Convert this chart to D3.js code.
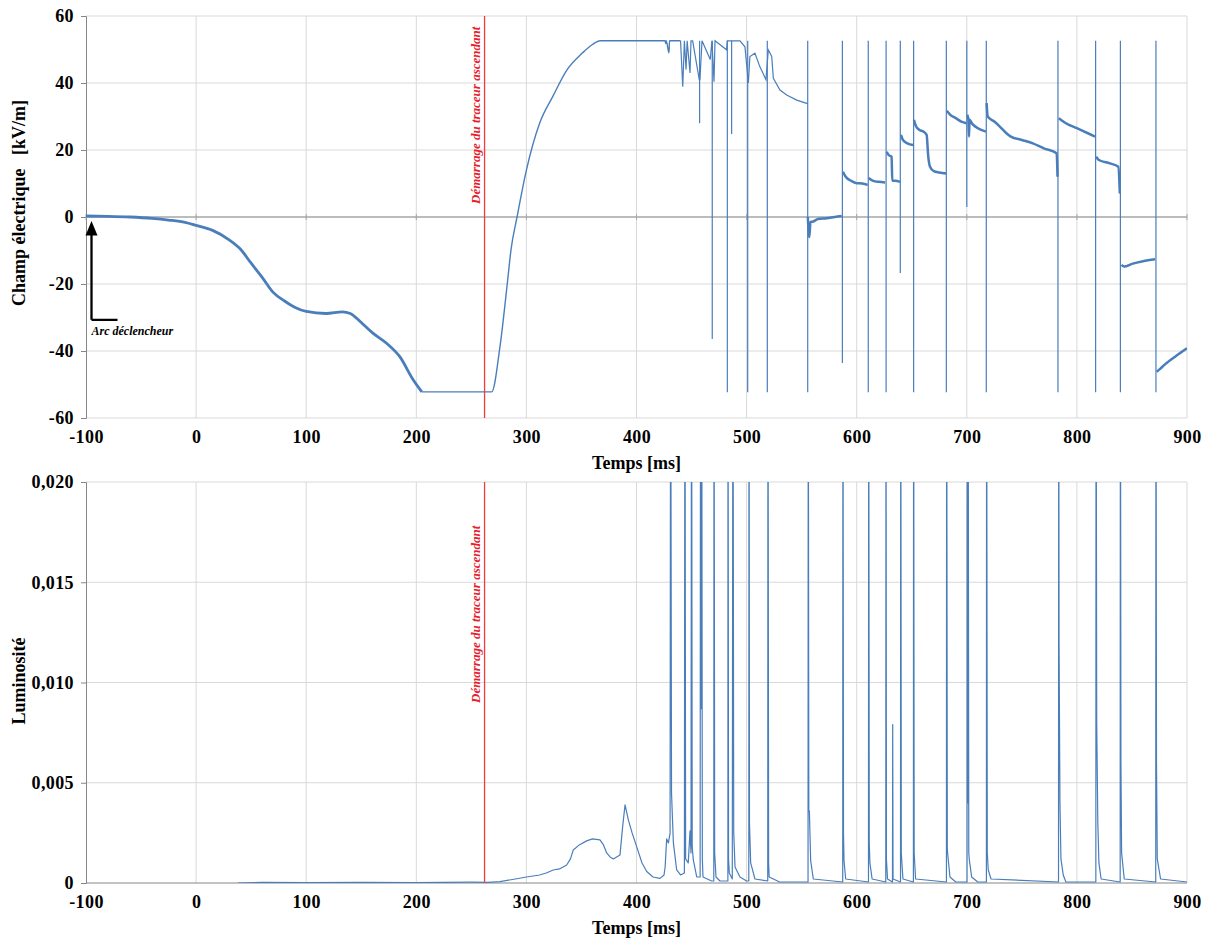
<!DOCTYPE html>
<html lang="fr">
<head>
<meta charset="UTF-8">
<title>Champ électrique et luminosité</title>
<script src="https://d3js.org/d3.v7.min.js"></script>
<style>
  body { margin: 0; background: #fff; }
  svg text { font-family: "Liberation Serif", "Times New Roman", serif; fill: #000; }
  .tick text { font-size: 18px; font-weight: bold; letter-spacing: 0.4px; }
  .grid line { stroke: #d9d9d9; stroke-width: 1; }
  .axis-title { font-size: 18px; font-weight: bold; }
  .note-red { font-size: 13px; font-style: italic; font-weight: bold; fill: #e8202a !important; }
  .note-arc { font-size: 12px; font-style: italic; font-weight: bold; }
</style>
</head>
<body>
<svg id="chart" width="1210" height="941"></svg>
<script>
// ---- data ----
const timeTicks = [-100, 0, 100, 200, 300, 400, 500, 600, 700, 800, 900];
const fieldTicks = [-60, -40, -20, 0, 20, 40, 60];
const lumTicks = [0, 0.005, 0.010, 0.015, 0.020];
const tracerStart = 262; // ms, "Démarrage du traceur ascendant"

// slow field change before the tracer, [ms, kV/m]
const fieldPre = [
  [-100, 0.3], [-80, 0.2], [-60, 0], [-40, -0.4], [-25, -0.9], [-10, -1.6], [0, -2.5],
  [15, -4], [30, -6.8], [40, -9.5], [50, -13.8], [60, -18], [70, -22.5], [80, -25],
  [90, -27], [100, -28.2], [118, -28.8], [133, -28.3], [140, -28.8], [150, -31.5],
  [160, -34.5], [173, -37.7], [185, -41.7], [197, -48.5], [205, -52.2]
];
// saturated floor, then rise to the top saturation
const fieldRise = [
  [205, -52.2], [268.5, -52.2], [276, -38.7], [283, -18.8], [286, -9.8], [291.5, 0],
  [300, 14], [312, 28], [324, 36], [337, 44], [351, 49], [360, 51.5], [367, 52.6],
  [426, 52.6], [426.5, 51.8], [427, 52.6], [429.5, 49], [430, 52.6], [440, 52.6]
];
// saturated part with dips
const fieldSat = [
  [440, 52.6], [442, 38.9], [443.5, 52.6], [445, 44], [446, 52.6], [448.6, 43],
  [449.5, 52.6], [451, 52.6], [457, 41], [457.6, 41], [459.5, 52.6], [467, 47],
  [468.5, 52.6], [470.4, 40.4], [471.3, 52.6], [481.8, 49.9], [482.5, 52.6],
  [494, 52.6], [498.5, 50.8], [501.6, 40], [503, 47.9], [507.6, 48.9], [512, 44.9],
  [517.6, 41], [519.7, 49.9], [522.8, 47.9], [524.3, 41.4], [530.3, 37.9],
  [536.4, 36.4], [545.5, 34.9], [554.6, 33.9], [555.5, 33.8]
];
// field steps between return strokes
const fieldSteps = [
  [[555.6, 0], [557, -6], [558, -1.5], [560, -1.4], [565, -0.6], [572.7, -0.4], [580, 0], [586.4, 0.3]],
  [[587.5, 13.5], [590, 12], [595, 10.8], [600, 10.1], [605, 10], [610, 9.6]],
  [[610.8, 11.6], [615, 10.8], [620, 10.5], [625.8, 10.3]],
  [[627.3, 19.5], [629, 18.5], [631.7, 18], [632.3, 10.8], [635, 10.8], [639.4, 10.5]],
  [[640.2, 24.5], [642, 23], [646, 22], [651.4, 21.5]],
  [[652, 29], [654, 27], [657, 26], [660.5, 25.5], [663.5, 24.5], [665, 18], [666.6, 15],
   [670, 13.7], [675, 13.3], [681.2, 13]],
  [[681.8, 31.7], [685, 30.5], [690, 29.5], [695, 28.5], [699.8, 28]],
  [[700.4, 30.5], [701.5, 29], [702, 24], [702.5, 29], [705, 27.8], [710, 26.5], [717.4, 25.5]],
  [[718, 34], [719, 30], [725, 28.5], [730, 27], [736, 25], [740, 24], [750, 23], [760, 22],
   [770, 20.5], [781.6, 19], [782.4, 12]],
  [[783.5, 29.5], [790, 28], [800, 26.5], [810, 25], [816.5, 24]],
  [[817.5, 18], [820, 17], [830, 16], [837.6, 15], [839, 7]],
  [[840.5, -14.3], [843, -14.8], [850, -14], [860, -13.2], [871, -12.6]],
  [[872.5, -46.2], [875, -45.5], [880, -44], [890, -41.5], [900, -39.2]]
];
// impulsive spikes: [ms, low, high]
const fieldSpikes = [
  [457.3, 28, 52.6], [468.8, -36.4, 52.6], [482.5, -52.3, 52.6], [486.4, 24.8, 52.6],
  [501, -52.3, 52.6], [518.8, -52.3, 52.6], [555.5, -52.3, 52.6], [587, -43.6, 52.6],
  [610.5, -52.3, 52.6], [626.7, -52.3, 52.6], [639.6, -16.7, 52.6], [651.7, -52.3, 52.6],
  [681.4, -52.3, 52.6], [700, 3, 52.6], [717.7, -52.3, 52.6], [782.8, -52.3, 52.6],
  [817, -52.3, 52.6], [839.5, -52.3, 52.6], [871.8, -52.3, 52.6]
];

// luminosity, [ms, value]; peaks go off scale
const luminosity = [
  [38, 0], [60, 0.00003], [100, 0.00002], [150, 0.00003], [200, 0.00002], [250, 0.00004],
  [265, 0.00003], [276, 0.00007], [290, 0.0002], [300, 0.0003], [312, 0.0004], [318, 0.0005],
  [324.4, 0.00065], [330, 0.0007], [336.6, 0.0009], [340, 0.0012], [342.6, 0.00165],
  [348, 0.0019], [354.7, 0.0021], [360, 0.0022], [366.8, 0.00215], [370, 0.0019],
  [372.9, 0.0015], [376, 0.0013], [379, 0.0012], [385, 0.0014], [387.4, 0.0028],
  [389.6, 0.0039], [392.6, 0.00315], [396, 0.0025], [400.2, 0.0018], [405, 0.001],
  [409.3, 0.00057], [415, 0.0003], [421.4, 0.00023], [425, 0.0004], [426, 0.0008],
  [427.4, 0.0022], [429, 0.002], [430.5, 0.0025], [431, 0.03], [431.8, 0.0045],
  [433.5, 0.002], [436.5, 0.00065], [440, 0.0004], [443.5, 0.0005], [444, 0.03],
  [444.6, 0.0012], [447, 0.001], [448.6, 0.0026], [449.5, 0.0015], [450, 0.03],
  [450.6, 0.0018], [451.6, 0.00115], [454.7, 0.0003], [457.8, 0.0003], [458.2, 0.03],
  [458.8, 0.0087], [459.2, 0.03], [459.8, 0.0012], [460.4, 0.0003], [468.3, 0.0001],
  [470.2, 0.0001], [470.4, 0.03], [471, 0.0015], [472.2, 0.0003], [475.8, 0.0001],
  [483, 0.0001], [483.1, 0.03], [483.6, 0.0012], [484.3, 0.0005], [487, 0.0002],
  [487.6, 0.03], [488.3, 0.0025], [489.5, 0.0008], [494, 0.0003], [500, 0.0001],
  [502, 0.0001], [502.2, 0.03], [502.6, 0.003], [503.7, 0.001], [507.6, 0.0002],
  [519.2, 0.0001], [519.4, 0.03], [520, 0.001], [520.5, 0.0003], [530, 0.00005],
  [555.8, 0.00005], [556, 0.03], [556.5, 0.0036], [557, 0.0036], [558.2, 0.0011],
  [560.6, 0.0002], [587.3, 0.00005], [587.5, 0.03], [588, 0.0025], [588.5, 0.0011],
  [590, 0.0002], [610.7, 0.00005], [610.9, 0.03], [611.4, 0.002], [612, 0.001],
  [614, 0.0002], [626.4, 0.00005], [626.6, 0.03], [627, 0.0012], [628, 0.0002],
  [632.5, 0.00005], [632.7, 0.0079], [633, 0.0002], [639.8, 0.00005], [640, 0.03],
  [640.5, 0.0015], [642, 0.0002], [651.5, 0.00005], [651.7, 0.03], [652.2, 0.0015],
  [653.5, 0.0002], [681.5, 0.00005], [681.7, 0.03], [682.3, 0.00165], [684.7, 0.0003],
  [690, 0.00005], [700.2, 0.00005], [700.4, 0.03], [700.9, 0.004], [701.2, 0.03],
  [701.8, 0.0015], [702.3, 0.00115], [704.4, 0.0003], [710, 0.00005], [717.8, 0.00005],
  [718, 0.03], [718.6, 0.0015], [719.5, 0.00065], [722, 0.0002], [783.3, 0.00005],
  [783.5, 0.03], [783.8, 0.012], [784.6, 0.004], [785.5, 0.0012], [787.6, 0.0004],
  [790, 0.00005], [817.2, 0.00005], [817.4, 0.03], [818, 0.008], [819, 0.003],
  [820, 0.001], [822, 0.0002], [839.3, 0.00005], [839.5, 0.03], [840, 0.006],
  [840.6, 0.0015], [843, 0.0002], [871.6, 0.00005], [871.8, 0.03], [872.3, 0.006],
  [873, 0.0012], [876, 0.0002], [900, 0.00005]
];

// ---- layout ----
const svg = d3.select("#chart");
const left = 86, right = 1187;
const top1 = { top: 16, bottom: 418 };
const bot1 = { top: 482, bottom: 883 };
const blue = "#4a7ebb";
const red = "#f03c3c";

const x = d3.scaleLinear().domain([-100, 900]).range([left, right]);
const yField = d3.scaleLinear().domain([-60, 60]).range([top1.bottom, top1.top]);
const yLum = d3.scaleLinear().domain([0, 0.02]).range([bot1.bottom, bot1.top]);

// plain hyphen minus, comma decimals, like the original sheet
const intFormat = d => String(d);
const lumFormat = d => d === 0 ? "0" : d3.format(".3f")(d).replace(".", ",");

function drawPanel(y, box, yTicks, fmt, id) {
  const g = svg.append("g");

  svg.append("clipPath").attr("id", id)
    .append("rect").attr("x", left).attr("y", box.top)
    .attr("width", right - left).attr("height", box.bottom - box.top);

  // gridlines
  g.append("g").attr("class", "grid")
    .selectAll("line").data(timeTicks.filter(t => t > -100)).join("line")
    .attr("x1", d => x(d)).attr("x2", d => x(d))
    .attr("y1", box.top).attr("y2", box.bottom);
  g.append("g").attr("class", "grid")
    .selectAll("line").data(yTicks.filter(v => v !== 0)).join("line")
    .attr("x1", left).attr("x2", right)
    .attr("y1", d => y(d)).attr("y2", d => y(d));

  // y axis
  const ay = g.append("g").attr("transform", `translate(${left},0)`)
    .call(d3.axisLeft(y).tickValues(yTicks).tickSize(5).tickPadding(7).tickFormat(fmt));
  ay.select(".domain").attr("stroke", "#868686");
  ay.selectAll(".tick line").attr("stroke", "#868686");

  // x labels under the plot
  const ax = g.append("g").attr("transform", `translate(0,${box.bottom})`)
    .call(d3.axisBottom(x).tickValues(timeTicks).tickSize(0).tickPadding(12)
      .tickFormat(intFormat));
  ax.select(".domain").remove();

  g.append("text").attr("class", "axis-title")
    .attr("x", (left + right) / 2).attr("y", box.bottom + 51)
    .attr("text-anchor", "middle").text("Temps [ms]");

  return g;
}

// ---------- top panel: electric field ----------
const gTop = drawPanel(yField, top1, fieldTicks, intFormat, "clipTop");

// zero line with crossing ticks
gTop.append("line")
  .attr("x1", left).attr("x2", right)
  .attr("y1", yField(0)).attr("y2", yField(0))
  .attr("stroke", "#a6a6a6").attr("stroke-width", 1.5);
gTop.append("g").selectAll("line").data(timeTicks).join("line")
  .attr("x1", d => x(d)).attr("x2", d => x(d))
  .attr("y1", yField(0) - 3).attr("y2", yField(0) + 3)
  .attr("stroke", "#a6a6a6");

const fieldLine = d3.line().x(d => x(d[0])).y(d => yField(d[1]));
const fieldSmooth = d3.line().curve(d3.curveMonotoneX).x(d => x(d[0])).y(d => yField(d[1]));
const plotTop = gTop.append("g").attr("clip-path", "url(#clipTop)");

plotTop.append("path").datum(fieldPre)
  .attr("d", fieldSmooth).attr("fill", "none")
  .attr("stroke", blue).attr("stroke-width", 2.8);
plotTop.append("path").datum(fieldRise)
  .attr("d", fieldSmooth).attr("fill", "none")
  .attr("stroke", blue).attr("stroke-width", 1.4);
plotTop.append("path").datum(fieldSat)
  .attr("d", fieldLine).attr("fill", "none")
  .attr("stroke", blue).attr("stroke-width", 1.2);
plotTop.selectAll(".step").data(fieldSteps).join("path")
  .attr("class", "step")
  .attr("d", fieldSmooth).attr("fill", "none")
  .attr("stroke", blue).attr("stroke-width", 2.5);
plotTop.selectAll(".spike").data(fieldSpikes).join("line")
  .attr("class", "spike")
  .attr("x1", d => x(d[0])).attr("x2", d => x(d[0]))
  .attr("y1", d => yField(d[1])).attr("y2", d => yField(d[2]))
  .attr("stroke", blue).attr("stroke-width", 1.2);

// y title (top)
svg.append("text").attr("class", "axis-title")
  .attr("transform", "translate(25,203) rotate(-90)")
  .attr("text-anchor", "middle")
  .attr("xml:space", "preserve")
  .text("Champ électrique   [kV/m]");

// "Arc déclencheur" arrow
const arrowX = x(-95);
gTop.append("path")
  .attr("d", `M${arrowX},${yField(-30.7)} V${yField(-5)} M${arrowX},${yField(-30.7)} H${arrowX + 26}`)
  .attr("fill", "none").attr("stroke", "#000").attr("stroke-width", 2.3);
gTop.append("path")
  .attr("d", `M${arrowX},${yField(-1.2)} L${arrowX - 6},${yField(-5.5)} L${arrowX + 6},${yField(-5.5)} Z`)
  .attr("fill", "#000");
gTop.append("text").attr("class", "note-arc")
  .attr("x", arrowX).attr("y", yField(-35.3))
  .text("Arc déclencheur");

// ---------- bottom panel: luminosity ----------
const gBot = drawPanel(yLum, bot1, lumTicks, lumFormat, "clipBot");

gBot.append("line")
  .attr("x1", left).attr("x2", right)
  .attr("y1", yLum(0)).attr("y2", yLum(0))
  .attr("stroke", "#868686");

const lumLine = d3.line().x(d => x(d[0])).y(d => yLum(d[1]));
gBot.append("g").attr("clip-path", "url(#clipBot)")
  .append("path").datum(luminosity)
  .attr("d", lumLine).attr("fill", "none")
  .attr("stroke", blue).attr("stroke-width", 1.2)
  .attr("stroke-linejoin", "round");

svg.append("text").attr("class", "axis-title")
  .attr("transform", "translate(25,681) rotate(-90)")
  .attr("text-anchor", "middle")
  .text("Luminosité");

// ---------- tracer start markers ----------
[[top1, 204], [bot1, 703]].forEach(([box, textStart]) => {
  svg.append("line")
    .attr("x1", x(tracerStart)).attr("x2", x(tracerStart))
    .attr("y1", box.top).attr("y2", box.bottom)
    .attr("stroke", red).attr("stroke-width", 1.3);
  svg.append("text").attr("class", "note-red")
    .attr("transform", `translate(${x(tracerStart) - 5},${textStart}) rotate(-90)`)
    .text("Démarrage du traceur ascendant");
});
</script>
</body>
</html>
